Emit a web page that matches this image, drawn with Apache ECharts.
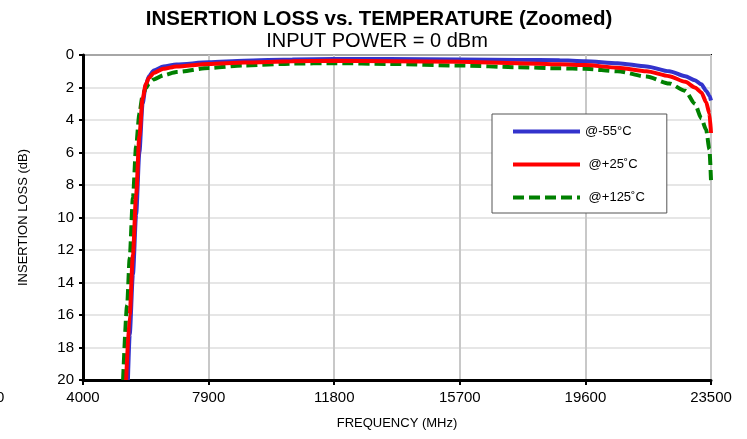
<!DOCTYPE html>
<html>
<head>
<meta charset="utf-8">
<script src="https://cdn.jsdelivr.net/npm/echarts@6/dist/echarts.min.js"></script>
<style>
  html, body { margin: 0; padding: 0; background: #fff; }
  #chart { width: 747px; height: 439px; }
</style>
</head>
<body>
<div id="chart"></div>
<script>
// Frequency axis ticks (MHz) and loss axis ticks (dB)
const xTicks = [4000, 7900, 11800, 15700, 19600, 23500];
const yTicks = [0, 2, 4, 6, 8, 10, 12, 14, 16, 18, 20];

const seriesNames = ['@-55°C', ' @+25˚C', ' @+125˚C'];

// -55°C
const freqCold = [5395, 5450, 5550, 5650, 5750, 5850, 5950, 6050, 6200, 6500, 6900, 7900, 9000, 10500, 11800, 13500, 15700, 17500, 18800, 19600, 20600, 21500, 22200, 22700, 23000, 23200, 23350, 23450, 23500];
const lossCold = [20.0, 17.2, 13.5, 9.8, 6.0, 3.0, 1.85, 1.3, 0.95, 0.7, 0.58, 0.45, 0.35, 0.28, 0.25, 0.25, 0.27, 0.3, 0.33, 0.38, 0.5, 0.7, 1.0, 1.3, 1.55, 1.8, 2.2, 2.5, 2.8];

// +25°C
const freqRoom = [5340, 5450, 5550, 5650, 5750, 5850, 5950, 6050, 6200, 6500, 6900, 7900, 9000, 10500, 11800, 13500, 15700, 17500, 18800, 19600, 20600, 21500, 22200, 22700, 23000, 23200, 23350, 23450, 23500];
const lossRoom = [20.0, 16.0, 12.3, 8.6, 5.0, 2.7, 1.8, 1.4, 1.1, 0.85, 0.7, 0.55, 0.46, 0.39, 0.36, 0.38, 0.42, 0.5, 0.57, 0.62, 0.78, 1.0, 1.3, 1.65, 2.0, 2.3, 2.9, 3.6, 4.8];

// +125°C
const freqHot = [5245, 5370, 5450, 5550, 5650, 5750, 5850, 5950, 6050, 6200, 6500, 6900, 7900, 9000, 10500, 11800, 13500, 15700, 17500, 18800, 19600, 20600, 21500, 22200, 22700, 23000, 23200, 23350, 23450, 23500];
const lossHot = [20.0, 15.4, 12.5, 8.8, 5.6, 3.6, 2.5, 2.05, 1.75, 1.5, 1.25, 1.05, 0.8, 0.64, 0.53, 0.5, 0.55, 0.65, 0.75, 0.82, 0.85, 1.0, 1.33, 1.75, 2.2, 3.0, 3.9, 4.6, 5.8, 7.7];

const pairs = (xs, ys) => xs.map((x, i) => [x, ys[i]]);

const FONT = '"Liberation Sans", Arial, sans-serif';

const chart = echarts.init(document.getElementById('chart'));

chart.setOption({
  animation: false,
  backgroundColor: '#ffffff',
  title: [
    {
      text: 'INSERTION LOSS vs. TEMPERATURE (Zoomed)',
      left: 374, top: 4, textAlign: 'center',
      textStyle: { fontFamily: FONT, fontSize: 20.5, fontWeight: 'bold', color: '#000' }
    },
    {
      text: 'INPUT POWER = 0 dBm',
      left: 372, top: 26, textAlign: 'center',
      textStyle: { fontFamily: FONT, fontSize: 20, fontWeight: 'normal', color: '#000' }
    }
  ],
  grid: {
    left: 83, right: 36, top: 55, bottom: 59,
    show: true, borderColor: '#000', borderWidth: 2, backgroundColor: 'transparent'
  },
  legend: {
    orient: 'vertical',
    left: 492, top: 114,
    padding: [11, 22, 9, 19],
    itemWidth: 67, itemHeight: 14, itemGap: 20,
    borderColor: '#555', borderWidth: 1,
    backgroundColor: '#fff',
    itemStyle: { opacity: 0 },
    lineStyle: { width: 4 },
    textStyle: { fontFamily: FONT, fontSize: 13, color: '#000' },
    data: seriesNames
  },
  xAxis: {
    type: 'value',
    min: xTicks[0], max: xTicks[xTicks.length - 1], interval: 3900,
    name: 'FREQUENCY (MHz)', nameLocation: 'middle', nameGap: 37,
    nameTextStyle: { fontFamily: FONT, fontSize: 13, color: '#000' },
    axisLine: { show: true, onZero: false, lineStyle: { color: '#000', width: 3 } },
    axisTick: { show: true, length: 5, lineStyle: { color: '#000', width: 2 } },
    axisLabel: { fontFamily: FONT, fontSize: 15, color: '#000', margin: 10, formatter: v => String(v) },
    splitLine: { show: true, lineStyle: { color: '#c8c8c8', width: 2 } }
  },
  yAxis: {
    type: 'value',
    inverse: true,
    min: yTicks[0], max: yTicks[yTicks.length - 1], interval: 2,
    name: 'INSERTION LOSS (dB)', nameLocation: 'middle', nameGap: 53,
    nameTextStyle: { fontFamily: FONT, fontSize: 13, color: '#000' },
    axisLine: { show: true, onZero: false, lineStyle: { color: '#000', width: 3 } },
    axisTick: { show: true, length: 4, lineStyle: { color: '#000', width: 2 } },
    axisLabel: { fontFamily: FONT, fontSize: 15, color: '#000', margin: 9, formatter: v => String(v) },
    splitLine: { show: true, lineStyle: { color: '#dedede', width: 1.5 } }
  },
  graphic: [
    {
      type: 'text', left: -4, top: 390,
      style: { text: '0', fontFamily: FONT, fontSize: 15, fill: '#000' }
    }
  ],
  series: [
    {
      name: seriesNames[2], type: 'line', showSymbol: false, symbol: 'none',
      smooth: 0.25, smoothMonotone: 'x', clip: true, z: 2,
      data: pairs(freqHot, lossHot),
      lineStyle: { color: '#008000', width: 4, type: [11, 5] },
      itemStyle: { color: '#008000' }
    },
    {
      name: seriesNames[1], type: 'line', showSymbol: false, symbol: 'none',
      smooth: 0.25, smoothMonotone: 'x', clip: true, z: 3,
      data: pairs(freqRoom, lossRoom),
      lineStyle: { color: '#ff0000', width: 4 },
      itemStyle: { color: '#ff0000' }
    },
    {
      name: seriesNames[0], type: 'line', showSymbol: false, symbol: 'none',
      smooth: 0.25, smoothMonotone: 'x', clip: true, z: 1,
      data: pairs(freqCold, lossCold),
      lineStyle: { color: '#3333cc', width: 4 },
      itemStyle: { color: '#3333cc' }
    }
  ]
});
</script>
</body>
</html>
